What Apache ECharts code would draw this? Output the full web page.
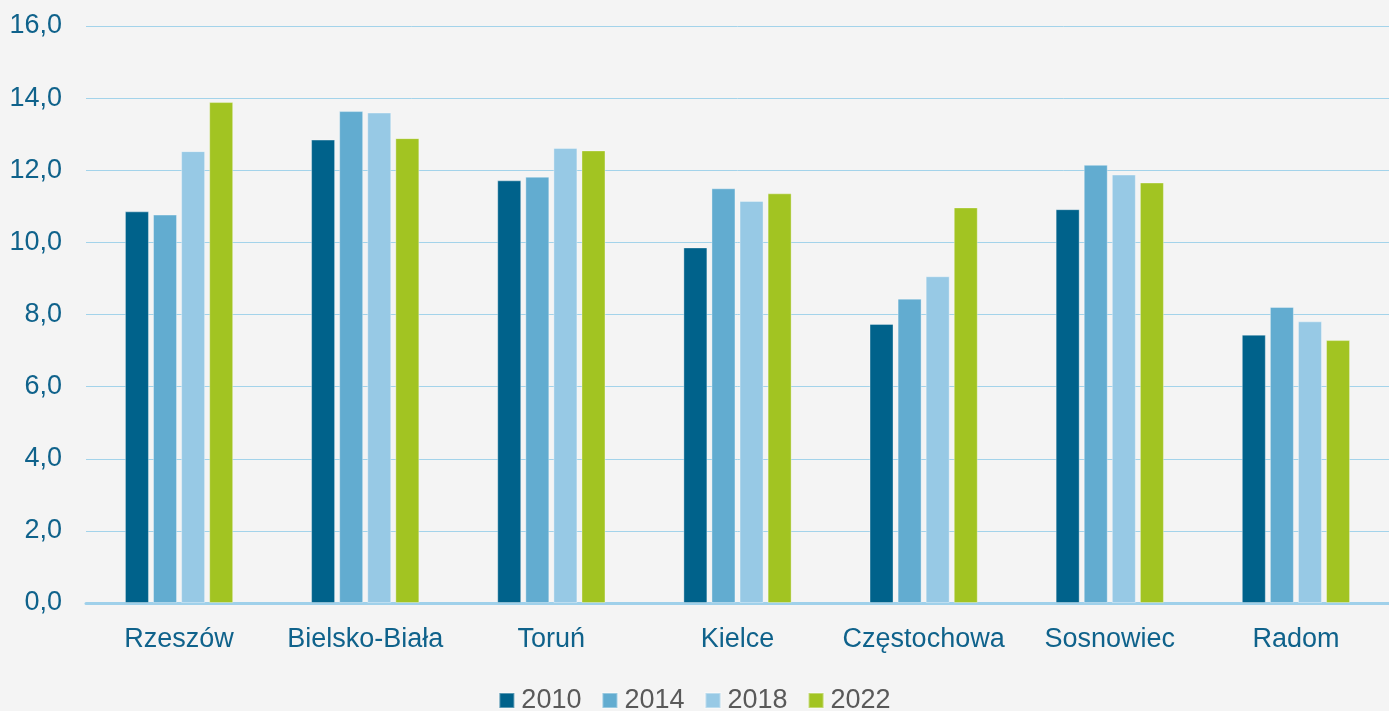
<!DOCTYPE html>
<html>
<head>
<meta charset="utf-8">
<script src="https://cdn.jsdelivr.net/npm/echarts@6/dist/echarts.min.js"></script>
<style>
html,body{margin:0;padding:0;background:#f4f4f4;}
#chart{width:1389px;height:711px;}
</style>
</head>
<body>
<div id="chart"></div>
<script>
const categories = ['Rzeszów','Bielsko-Biała','Toruń','Kielce','Częstochowa','Sosnowiec','Radom'];
const seriesNames = ['2010','2014','2018','2022'];
const v2010 = [10.86, 12.85, 11.72, 9.86, 7.74, 10.92, 7.44];
const v2014 = [10.77, 13.64, 11.82, 11.50, 8.44, 12.15, 8.21];
const v2018 = [12.53, 13.60, 12.62, 11.15, 9.06, 11.88, 7.81];
const v2022 = [13.89, 12.89, 12.55, 11.36, 10.97, 11.66, 7.29];
const colors = ['#00628b','#62acd0','#97c9e5','#a2c422'];

const chart = echarts.init(document.getElementById('chart'));
const values = [v2010, v2014, v2018, v2022];
const font = 'Liberation Sans, Arial, sans-serif';
chart.setOption({
  backgroundColor: '#f4f4f4',
  animation: false,
  textStyle: {fontFamily: font},
  grid: {left: 86, right: 0, top: 26, bottom: 108},
  legend: {
    bottom: -8, left: 'center',
    itemWidth: 15, itemHeight: 15, itemGap: 20,
    icon: 'rect',
    textStyle: {fontSize: 27, color: '#595959', padding: [0,0,0,2], fontFamily: font},
    data: seriesNames
  },
  xAxis: {
    type: 'category',
    data: categories,
    axisLine: {show: true, lineStyle: {color: '#9fd0ea', width: 3}},
    axisTick: {show: false},
    axisLabel: {fontSize: 27, color: '#0f628b', margin: 23, interval: 0}
  },
  yAxis: {
    type: 'value',
    min: 0, max: 16, interval: 2,
    axisLine: {show: false},
    axisTick: {show: false},
    splitLine: {lineStyle: {color: '#a3d3ea', width: 1}},
    axisLabel: {fontSize: 27, color: '#0f628b', margin: 24,
      formatter: v => v.toFixed(1).replace('.', ',')}
  },
  series: seriesNames.map((n, i) => ({
    name: n,
    type: 'bar',
    data: values[i],
    barWidth: 24,
    barGap: '17%',
    itemStyle: {color: colors[i], borderColor: 'rgba(255,255,255,0.35)', borderWidth: 1}
  }))
});
</script>
</body>
</html>
